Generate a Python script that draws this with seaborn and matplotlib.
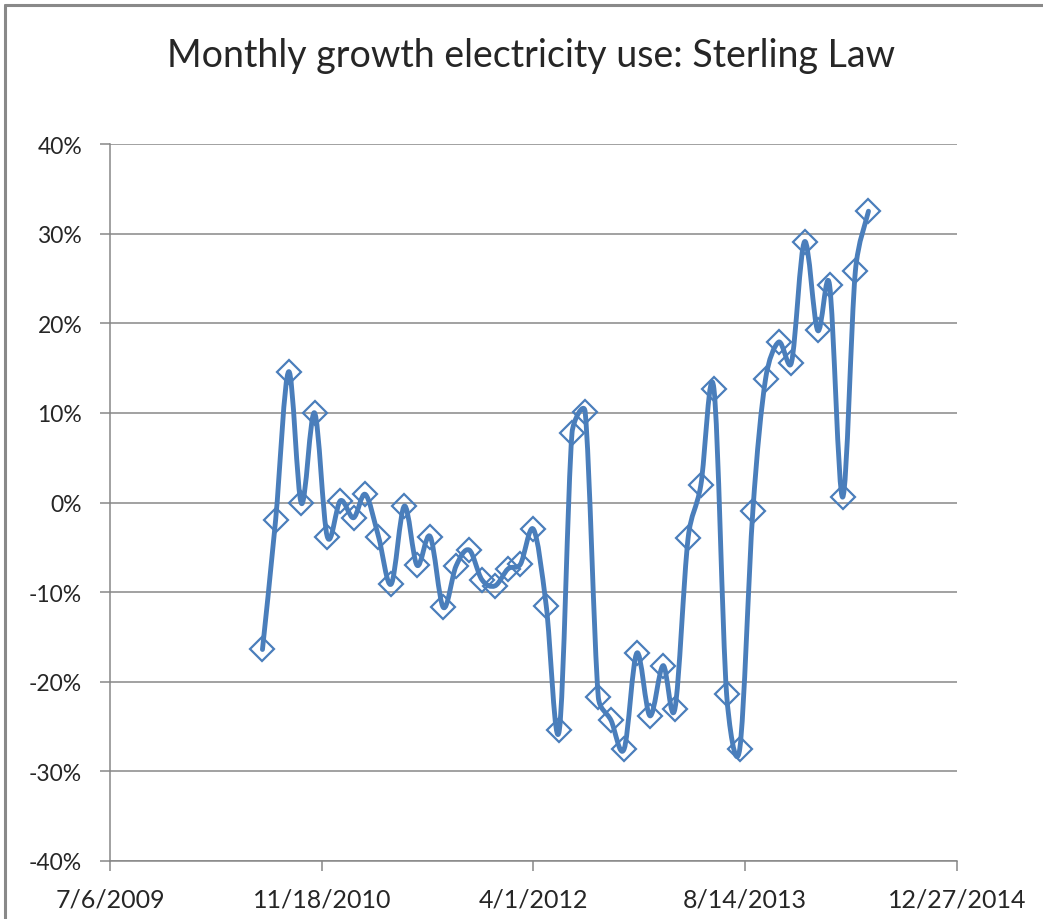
import matplotlib
matplotlib.use('Agg')
import matplotlib.pyplot as plt
import matplotlib.dates as mdates
from matplotlib.path import Path
from matplotlib.patches import PathPatch
from matplotlib.lines import Line2D
import seaborn as sns
import numpy as np
import pandas as pd

# monthly growth, Jul 2010 .. Jun 2014 (percent)
months = pd.date_range('2010-07-01', periods=48, freq='MS')
growth = [-16.4, -2.0, 14.6, -0.1, 10.0, -3.8, 0.2, -1.7, 0.9, -3.8,
          -9.1, -0.4, -7.0, -3.8, -11.7, -7.1, -5.3, -8.6, -9.3, -7.4,
          -6.9, -3.0, -11.5, -25.4, 7.8, 10.1, -21.7, -24.3, -27.5, -16.8,
          -23.8, -18.2, -23.0, -4.0, 1.9, 12.7, -21.4, -27.5, -0.9, 13.8,
          17.9, 15.6, 29.1, 19.2, 24.3, 0.6, 25.8, 32.5]
tick_dates = pd.to_datetime(['2009-07-06', '2010-11-18', '2012-04-01', '2013-08-14', '2014-12-27'])
tick_labels = ['7/6/2009', '11/18/2010', '4/1/2012', '8/14/2013', '12/27/2014']
y_ticks = [-40, -30, -20, -10, 0, 10, 20, 30, 40]

df = pd.DataFrame({'month': months, 'growth': growth})

sns.set_style('white')
plt.rcParams['font.family'] = ['Lato', 'DejaVu Sans']

blue = '#4a7ebb'
grid = '#878787'

fig = plt.figure(figsize=(10.43, 9.2), dpi=100)
ax = fig.add_axes([110/1043, 1-862/920, 847/1043, 717/920])
ax.set_xlim(tick_dates[0], tick_dates[-1])
ax.set_ylim(-40, 40)

# excel style smoothed line: bezier through the points, worked out in pixel space
pix = ax.transData.transform(np.column_stack([mdates.date2num(df['month']), growth]))
n = len(pix)
verts = [pix[0]]
codes = [Path.MOVETO]
for i in range(n-1):
    p0, p1, p2, p3 = pix[max(i-1, 0)], pix[i], pix[i+1], pix[min(i+2, n-1)]
    seg = np.hypot(*(p2-p1))
    a = (p2-p0)/6
    b = (p3-p1)/6
    if np.hypot(*a) > 0.5*seg:
        a = a/np.hypot(*a)*0.5*seg
    if np.hypot(*b) > 0.5*seg:
        b = b/np.hypot(*b)*0.5*seg
    verts += [p1+a, p2-b, p2]
    codes += [Path.CURVE4]*3
verts = ax.transData.inverted().transform(np.array(verts))
ax.add_patch(PathPatch(Path(verts, codes), fill=False, edgecolor=blue, lw=3.5,
                       capstyle='round', joinstyle='round', zorder=3))

sns.lineplot(data=df, x='month', y='growth', ax=ax, linestyle='', marker='D', markersize=12,
             markerfacecolor='none', markeredgecolor=blue, markeredgewidth=1.6, zorder=4)

ax.set_xlim(tick_dates[0], tick_dates[-1])
ax.set_ylim(-40, 40)
ax.set_xticks(tick_dates)
ax.set_xticklabels(tick_labels)
ax.set_yticks(y_ticks)
ax.set_yticklabels([f'{v}%' for v in y_ticks])
ax.set_xlabel('')
ax.set_ylabel('')
ax.yaxis.grid(True, color=grid, lw=1.1)
ax.xaxis.grid(False)
for s in ['top', 'right']:
    ax.spines[s].set_visible(False)
for s in ['left', 'bottom']:
    ax.spines[s].set_color(grid)
    ax.spines[s].set_linewidth(1.1)
ax.tick_params(axis='both', direction='out', length=7, width=1.1, color=grid)
ax.tick_params(axis='y', pad=13, labelsize=16.5)
ax.tick_params(axis='x', pad=12, labelsize=18)
ax.tick_params(axis='x', bottom=True)
ax.tick_params(axis='y', left=True)

fig.text(531/1043, 1-56/920, 'Monthly growth electricity use: Sterling Law', ha='center', va='center', fontsize=27)

# chart area border (top and left edges)
fig.add_artist(Line2D([5/1043, 5/1043], [0, 1-6/920], color='#898989', lw=2.2, transform=fig.transFigure))
fig.add_artist(Line2D([5/1043, 1], [1-6/920, 1-6/920], color='#898989', lw=2.2, transform=fig.transFigure))

fig.savefig('out.png', dpi=100)
